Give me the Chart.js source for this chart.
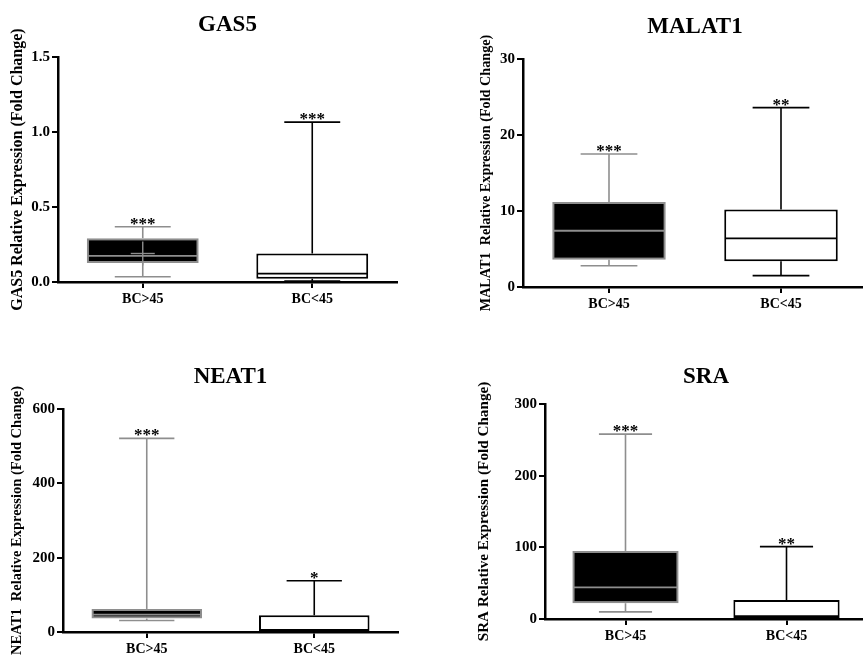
<!DOCTYPE html>
<html>
<head>
<meta charset="utf-8">
<script src="https://cdn.jsdelivr.net/npm/chart.js@4.4.1/dist/chart.umd.min.js"></script>
<style>
  html, body { margin: 0; padding: 0; background: #fff; overflow: hidden; width: 863px; height: 666px; }
  canvas { position: absolute; }
</style>
</head>
<body>
<canvas id="chartGas5"></canvas>
<canvas id="chartMalat1"></canvas>
<canvas id="chartNeat1"></canvas>
<canvas id="chartSra"></canvas>
<script>
// Data
const categories = ["BC>45", "BC<45"];

const gas5Min = [0.035, 0.007];
const gas5Q1 = [0.127, 0.022];
const gas5Median = [0.174, 0.056];
const gas5Q3 = [0.292, 0.19];
const gas5Max = [0.368, 1.066];
const gas5Mean = [0.19, null];
const gas5Stars = ["***", "***"];
const gas5Ticks = [0, 0.5, 1.0, 1.5];

const malat1Min = [2.8, 1.5];
const malat1Q1 = [3.6, 3.4];
const malat1Median = [7.4, 6.4];
const malat1Q3 = [11.2, 10.2];
const malat1Max = [17.5, 23.6];
const malat1Stars = ["***", "**"];
const malat1Ticks = [0, 10, 20, 30];

const neat1Min = [31, 1];
const neat1Q1 = [36, 3];
const neat1Median = [47, 4];
const neat1Q3 = [62, 45];
const neat1Max = [521, 138];
const neat1Stars = ["***", "*"];
const neat1Ticks = [0, 200, 400, 600];

const sraMin = [10, 0.5];
const sraQ1 = [22, 1.5];
const sraMedian = [44, 4];
const sraQ3 = [95, 26.5];
const sraMax = [258, 101];
const sraStars = ["***", "**"];
const sraTicks = [0, 100, 200, 300];

// Styles
const serif = "'Liberation Serif', 'Times New Roman', serif";
const boxFill = ["#000000", "#ffffff"];
const lineColor = ["#8e8e8e", "#000000"];

function boxPlugin(title, stats) {
	return {
		id: "boxPlot",
		afterDatasetsDraw(chart) {
			const ctx = chart.ctx;
			const x = chart.scales.x;
			const y = chart.scales.y;
			const meta = chart.getDatasetMeta(0);
			const area = chart.chartArea;
			const line = function(x0, y0, x1, y1) {
				ctx.beginPath();
				ctx.moveTo(x0, y0);
				ctx.lineTo(x1, y1);
				ctx.stroke();
			};
			ctx.save();
			stats.min.forEach(function(element, i) {
				const cx = x.getPixelForValue(i);
				const half = meta.data[i].width / 2;
				const cap = half / 2;
				const yMin = y.getPixelForValue(stats.min[i]);
				const yQ1 = y.getPixelForValue(stats.q1[i]);
				const yMed = y.getPixelForValue(stats.median[i]);
				const yQ3 = y.getPixelForValue(stats.q3[i]);
				const yMax = y.getPixelForValue(stats.max[i]);
				ctx.strokeStyle = lineColor[i];
				ctx.lineWidth = 1.6;
				line(cx, yMax, cx, yQ3);
				line(cx, yQ1, cx, yMin);
				line(cx - cap, yMax, cx + cap, yMax);
				line(cx - cap, yMin, cx + cap, yMin);
				ctx.lineWidth = 1.8;
				line(cx - half + 1, yMed, cx + half - 1, yMed);
				if (stats.mean && stats.mean[i] != null) {
					const yMean = y.getPixelForValue(stats.mean[i]);
					ctx.lineWidth = 1.4;
					line(cx - 12, yMean, cx + 12, yMean);
					line(cx, yMean - 12, cx, yMean + 12);
				}
				ctx.fillStyle = "#000";
				ctx.font = "bold 17px " + serif;
				ctx.textAlign = "center";
				ctx.textBaseline = "alphabetic";
				ctx.fillText(stats.stars[i], cx, yMax + 2);
			});
			ctx.fillStyle = "#000";
			ctx.font = "bold 23px " + serif;
			ctx.textAlign = "center";
			ctx.textBaseline = "middle";
			ctx.fillText(title, (area.left + area.right) / 2, area.top - stats.titleGap);
			ctx.restore();
		}
	};
}

function makeChart(id, pos, title, yTitle, yTitleSize, ticks, decimals, stats) {
	const canvas = document.getElementById(id);
	canvas.style.left = pos.left + "px";
	canvas.style.top = pos.top + "px";
	canvas.width = pos.width;
	canvas.height = pos.height;
	const lineH = yTitleSize * 1.2;
	const padLeft = pos.yTitleX - lineH / 2;
	const yWidth = pos.area[0] - padLeft;
	const xHeight = pos.height - pos.area[3];

	return new Chart(canvas, {
		type: "bar",
		data: {
			labels: categories,
			datasets: [{
				data: stats.q1.map(function(v, i) { return [v, stats.q3[i]]; }),
				backgroundColor: boxFill,
				borderColor: lineColor,
				borderWidth: 2,
				borderSkipped: false,
				barPercentage: 0.66,
				categoryPercentage: 1
			}]
		},
		options: {
			responsive: false,
			animation: false,
			devicePixelRatio: 1,
			layout: {
				padding: { left: padLeft, top: pos.area[1], right: pos.width - pos.area[2], bottom: 0 }
			},
			plugins: {
				legend: { display: false },
				tooltip: { enabled: false }
			},
			scales: {
				x: {
					offset: true,
					grid: { display: true, drawOnChartArea: false, offset: false, color: "#000", lineWidth: 2, tickLength: 6 },
					border: { display: true, color: "#000", width: 2.5 },
					ticks: { color: "#000", padding: 3, font: { family: serif, size: 14, weight: "bold" } },
					afterFit: function(scale) { scale.height = xHeight; }
				},
				y: {
					min: ticks[0],
					max: ticks[ticks.length - 1],
					afterBuildTicks: function(scale) {
						scale.ticks = ticks.map(function(v) { return { value: v }; });
					},
					grid: { display: true, drawOnChartArea: false, color: "#000", lineWidth: 2, tickLength: 6 },
					border: { display: true, color: "#000", width: 2.5 },
					ticks: {
						color: "#000",
						padding: 2,
						font: { family: serif, size: 15, weight: "bold" },
						callback: function(v) { return Number(v).toFixed(decimals); }
					},
					title: {
						display: true,
						text: yTitle,
						color: "#000",
						padding: 0,
						font: { family: serif, size: yTitleSize, weight: "bold" }
					},
					afterFit: function(scale) { scale.width = yWidth; }
				}
			}
		},
		plugins: [boxPlugin(title, stats)]
	});
}

makeChart("chartGas5",
	{ left: 0, top: 0, width: 431, height: 330, area: [58, 57, 397, 282], yTitleX: 18 },
	"GAS5", "GAS5 Relative Expression (Fold Change)", 16, gas5Ticks, 1,
	{ min: gas5Min, q1: gas5Q1, median: gas5Median, q3: gas5Q3, max: gas5Max, mean: gas5Mean, stars: gas5Stars, titleGap: 32 });

makeChart("chartMalat1",
	{ left: 431, top: 0, width: 440, height: 330, area: [92, 59, 436, 287], yTitleX: 55 },
	"MALAT1", "MALAT1  Relative Expression (Fold Change)", 14.2, malat1Ticks, 0,
	{ min: malat1Min, q1: malat1Q1, median: malat1Median, q3: malat1Q3, max: malat1Max, stars: malat1Stars, titleGap: 32 });

makeChart("chartNeat1",
	{ left: 0, top: 330, width: 431, height: 336, area: [63, 79, 398, 302], yTitleX: 17 },
	"NEAT1", "NEAT1  Relative Expression (Fold Change)", 14.5, neat1Ticks, 0,
	{ min: neat1Min, q1: neat1Q1, median: neat1Median, q3: neat1Q3, max: neat1Max, stars: neat1Stars, titleGap: 32 });

makeChart("chartSra",
	{ left: 431, top: 330, width: 440, height: 336, area: [114, 74, 436, 289], yTitleX: 53 },
	"SRA", "SRA Relative Expression (Fold Change)", 15.2, sraTicks, 0,
	{ min: sraMin, q1: sraQ1, median: sraMedian, q3: sraQ3, max: sraMax, stars: sraStars, titleGap: 27 });
</script>
</body>
</html>
